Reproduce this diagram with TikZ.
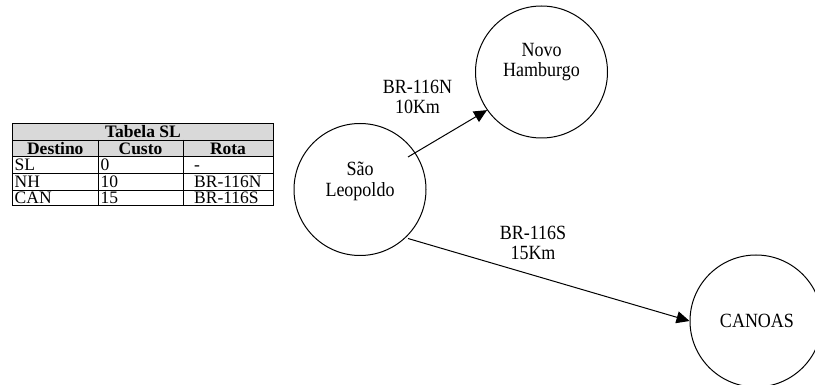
\documentclass[tikz,border=0pt]{standalone}
\usepackage{fontspec}
\setmainfont{Liberation Serif}
\usetikzlibrary{arrows.meta}

\tikzset{
  town/.style={draw, circle, line width=1pt, minimum size=132pt, inner sep=0pt},
  tall/.style={yscale=1.12, transform shape},
  townname/.style={tall, align=center, font=\fontsize{18}{18.5}\selectfont, inner sep=0pt},
  road/.style={line width=1pt, -{Triangle[length=13pt,width=12pt]}},
  roadname/.style={tall, align=center, font=\fontsize{18}{18.5}\selectfont, inner sep=0pt},
  cell/.style={font=\fontsize{17.5}{17.5}\selectfont, inner sep=0pt, anchor=base west},
  hcell/.style={cell, font=\fontsize{17.5}{17.5}\selectfont\bfseries, anchor=base},
  grid line/.style={line width=0.9pt},
}

\begin{document}
\begin{tikzpicture}[x=1pt, y=-1pt]
  \clip (0,0) rectangle (815,385);

  % routing table of Sao Leopoldo
  \fill[black!15] (12.7,123.3) rectangle (273,156.7);
  \draw[grid line] (12.7,123.3) rectangle (273,205.7);
  \foreach \yy in {140,156.7,173,190}
    \draw[grid line] (12.7,\yy) -- (273,\yy);
  \draw[grid line] (98,140) -- (98,205.7);
  \draw[grid line] (183,140) -- (183,205.7);

  \node[hcell] (title) at (143,137.6) {Tabela SL};
  \node[hcell] (hdest) at (55.3,154.2) {Destino};
  \node[hcell] (hcost) at (140.5,154.2) {Custo};
  \node[hcell] (hroute) at (228,154.2) {Rota};

  \node[cell] (d1) at (14.5,170.6) {SL};
  \node[cell] (c1) at (100.5,170.6) {0};
  \node[cell] (r1) at (194,170.6) {-};
  \node[cell] (d2) at (14.5,187.4) {NH};
  \node[cell] (c2) at (100.5,187.4) {10};
  \node[cell] (r2) at (194,187.4) {BR-116N};
  \node[cell] (d3) at (14.5,203.3) {CAN};
  \node[cell] (c3) at (100.5,203.3) {15};
  \node[cell] (r3) at (194,203.3) {BR-116S};

  % towns
  \node[town] (SL) at (360,189.5) {};
  \node[town] (NH) at (541.5,72) {};
  \node[town] (CAN) at (756,321) {};

  \node[townname] (SLtext) at (360,181) {São\\Leopoldo};
  \node[townname] (NHtext) at (541.5,62) {Novo\\Hamburgo};
  \node[townname] (CANtext) at (757,321) {CANOAS};

  % roads
  \coordinate (SLne) at (408,157);
  \coordinate (SLse) at (408,238.5);
  \draw[road] (SLne) -- (NH.215);
  \draw[road] (SLse) -- (CAN.west);

  \node[roadname] (north) at (417.5,97) {BR-116N\\10Km};
  \node[roadname] (south) at (533,243) {BR-116S\\15Km};
\end{tikzpicture}
\end{document}
